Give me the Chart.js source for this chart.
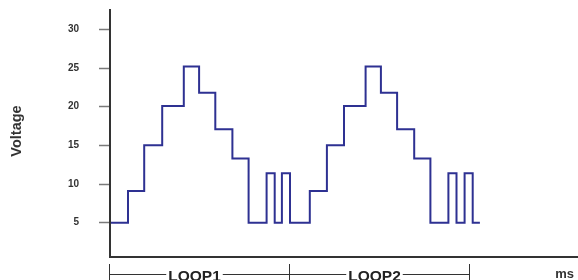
<!DOCTYPE html>
<html>
<head>
<meta charset="utf-8">
<script src="https://cdn.jsdelivr.net/npm/chart.js@4.4.1/dist/chart.umd.min.js"></script>
<style>
  html, body { margin: 0; padding: 0; background: #fff; }
  #wrap { width: 578px; height: 280px; position: relative; }
</style>
</head>
<body>
<div id="wrap"><canvas id="voltChart"></canvas></div>
<script>
/* ============================================
   DATA
   ============================================ */
// time (ms) at which each new voltage level starts
const stepTimes = [0.1, 2.0, 3.8, 5.8, 8.2, 9.9, 11.7, 13.6, 15.4, 17.4, 18.3, 19.1,
                   20.0, 22.2, 24.1, 26.0, 28.4, 30.1, 31.9, 33.8, 35.6, 37.6, 38.5, 39.4, 40.3, 41.1];
const voltages  = [5, 9.1, 15, 20.1, 25.2, 21.8, 17.1, 13.3, 5, 11.4, 5, 11.4,
                   5, 9.1, 15, 20.1, 25.2, 21.8, 17.1, 13.3, 5, 11.4, 5, 11.4, 5, 5];
const yTicks = [5, 10, 15, 20, 25, 30];
const loopEdges = [0, 20, 40];
const loopLabels = ['LOOP1', 'LOOP2'];

const points = stepTimes.map((t, i) => ({ x: t, y: voltages[i] }));

/* ============================================
   LABELS PLUGIN (axis title, unit, loop brackets)
   ============================================ */
const labelsPlugin = {
    id: 'labels',
    afterDraw(chart) {
        const ctx = chart.ctx;
        const xs = chart.scales.x;
        ctx.save();

        // Voltage title, rotated
        ctx.fillStyle = '#333';
        ctx.font = 'bold 14.5px "Liberation Sans", Arial, sans-serif';
        ctx.textAlign = 'center';
        ctx.textBaseline = 'middle';
        ctx.translate(17, 131);
        ctx.rotate(-Math.PI / 2);
        ctx.fillText('Voltage', 0, 0);
        ctx.setTransform(1, 0, 0, 1, 0, 0);

        // unit
        ctx.font = 'bold 13px "Liberation Sans", Arial, sans-serif';
        ctx.textAlign = 'right';
        ctx.textBaseline = 'alphabetic';
        ctx.fillText('ms', 574, 278);

        // loop brackets
        ctx.strokeStyle = '#333';
        ctx.lineWidth = 1;
        ctx.font = 'bold 15.5px "Liberation Sans", Arial, sans-serif';
        ctx.fillStyle = '#222';
        const lineY = 274.5;
        loopLabels.forEach((lbl, i) => {
            const x1 = Math.round(xs.getPixelForValue(loopEdges[i])) - 0.5;
            const x2 = Math.round(xs.getPixelForValue(loopEdges[i + 1])) - 0.5;
            const cx = (x1 + x2) / 2 - 5;
            const w = ctx.measureText(lbl).width;
            ctx.beginPath();
            ctx.moveTo(x1, 264); ctx.lineTo(x1, 280);
            ctx.moveTo(x2, 264); ctx.lineTo(x2, 280);
            ctx.moveTo(x1, lineY); ctx.lineTo(cx - w / 2 - 2, lineY);
            ctx.moveTo(cx + w / 2 + 2, lineY); ctx.lineTo(x2, lineY);
            ctx.stroke();
            ctx.textAlign = 'center';
            ctx.fillText(lbl, cx, 281);
        });
        ctx.restore();
    }
};

/* ============================================
   CHART
   ============================================ */
new Chart(document.getElementById('voltChart'), {
    type: 'line',
    data: {
        datasets: [{
            data: points,
            stepped: true,
            borderColor: '#2e3192',
            borderWidth: 2,
            borderJoinStyle: 'miter',
            pointRadius: 0,
            fill: false
        }]
    },
    options: {
        responsive: true,
        maintainAspectRatio: false,
        animation: false,
        layout: { padding: { top: 10, right: 0, left: 0, bottom: 0 } },
        plugins: { legend: { display: false }, tooltip: { enabled: false } },
        scales: {
            x: {
                type: 'linear',
                min: 0,
                max: 52,
                ticks: { display: false },
                grid: { display: false },
                border: { color: '#333', width: 2 },
                afterFit: s => { s.height = 23; s.paddingLeft = 0; s.paddingRight = 0; }
            },
            y: {
                min: 0.57,
                max: 32.5,
                afterBuildTicks: s => { s.ticks = yTicks.map(v => ({ value: v })); },
                ticks: {
                    color: '#333',
                    padding: 20,
                    font: { family: '"Liberation Sans", Arial, sans-serif', size: 10, weight: 'bold' }
                },
                grid: { drawOnChartArea: false, drawTicks: true, tickLength: 11, tickColor: '#7a7a7a', tickWidth: 1.5 },
                border: { color: '#333', width: 2 },
                afterFit: s => { s.width = 110; s.paddingTop = 0; s.paddingBottom = 0; }
            }
        }
    },
    plugins: [labelsPlugin]
});
</script>
</body>
</html>
